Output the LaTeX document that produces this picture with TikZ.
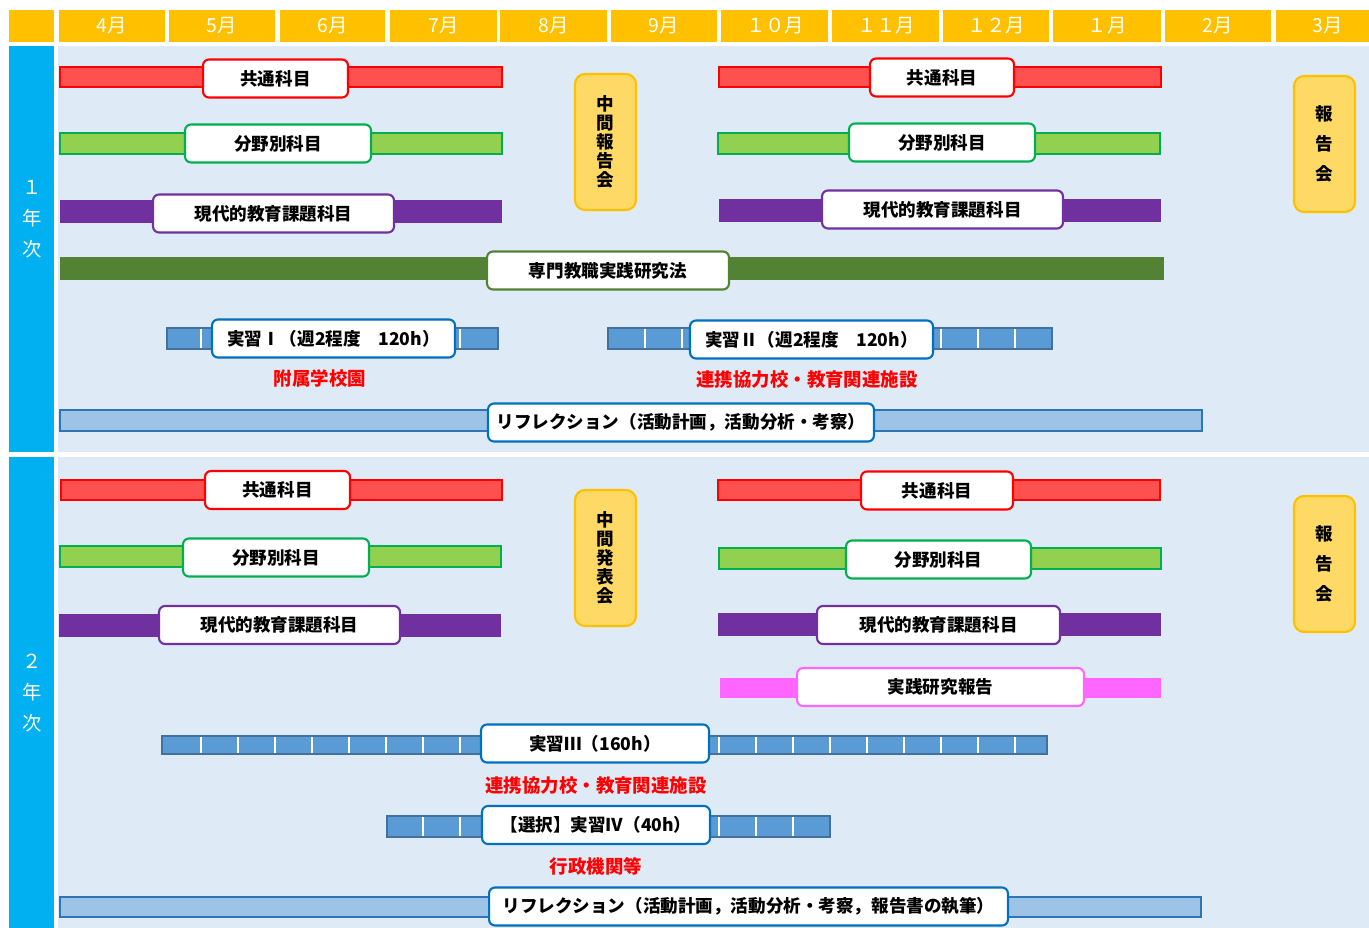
\documentclass[tikz,border=0pt]{standalone}
\usepackage{fontspec}
\newfontfamily\jp{Noto Sans CJK JP}
\definecolor{hdrorange}{HTML}{FFC000}
\definecolor{yearblue}{HTML}{00B0F0}
\definecolor{bgblue}{HTML}{DEEAF6}
\definecolor{kyored}{HTML}{FF5050}
\definecolor{bungreen}{HTML}{92D050}
\definecolor{bunline}{HTML}{00B050}
\definecolor{genpurple}{HTML}{7030A0}
\definecolor{sengreen}{HTML}{548235}
\definecolor{jisblue}{HTML}{5B9BD5}
\definecolor{jisline}{HTML}{41719C}
\definecolor{lblblue}{HTML}{0070C0}
\definecolor{refblue}{HTML}{9DC3E6}
\definecolor{refline}{HTML}{2E75B6}
\definecolor{evyellow}{HTML}{FFD966}
\definecolor{jprpink}{HTML}{FF66FF}
\begin{document}
\begin{tikzpicture}[
    x=0.02cm, y=-0.02cm,
    month/.style={text=white, font=\jp\fontsize{11}{13}\selectfont},
    yearlbl/.style={text=white, align=center, font=\jp\fontsize{11}{17.6}\selectfont},
    bar/.style={line width=0.6pt},
    lbl/.style={rectangle, rounded corners=0.12cm, draw, fill=white, line width=1.2pt, minimum height=0.76cm, inner sep=0pt, font=\jp\bfseries\fontsize{10}{12}\selectfont},
    place/.style={text=red, font=\jp\bfseries\fontsize{10.5}{12}\selectfont},
    event/.style={rectangle, rounded corners=0.2cm, draw=hdrorange, fill=evyellow, line width=1.2pt, minimum width=1.22cm, minimum height=2.72cm, inner sep=0pt, align=center, font=\jp\bfseries\fontsize{10}{10.8}\selectfont},
    tick/.style={white, line width=1.1pt}
]
\useasboundingbox (0,0) rectangle (1369,928);

% 見出し（月）
\fill[hdrorange] (9,10) rectangle (54,42);
\fill[hdrorange] (59,10) rectangle (165,42);
\fill[hdrorange] (169,10) rectangle (275,42);
\fill[hdrorange] (280,10) rectangle (385,42);
\fill[hdrorange] (390,10) rectangle (497,42);
\fill[hdrorange] (500,10) rectangle (607,42);
\fill[hdrorange] (611,10) rectangle (717,42);
\fill[hdrorange] (721,10) rectangle (828,42);
\fill[hdrorange] (832,10) rectangle (939,42);
\fill[hdrorange] (943,10) rectangle (1049,42);
\fill[hdrorange] (1053,10) rectangle (1161,42);
\fill[hdrorange] (1165,10) rectangle (1271,42);
\fill[hdrorange] (1276,10) rectangle (1369,42);
\node[month] (m4) at (112,26) {4月};
\node[month] (m5) at (222,26) {5月};
\node[month] (m6) at (333,26) {6月};
\node[month] (m7) at (444,26) {7月};
\node[month] (m8) at (554,26) {8月};
\node[month] (m9) at (664,26) {9月};
\node[month] (m10) at (775,26) {１０月};
\node[month] (m11) at (886,26) {１１月};
\node[month] (m12) at (996,26) {１２月};
\node[month] (m1) at (1107,26) {１月};
\node[month] (m2) at (1218,26) {2月};
\node[month] (m3) at (1328,26) {3月};

% 背景
\fill[yearblue] (9,46) rectangle (54,452);
\fill[yearblue] (9,457) rectangle (54,928);
\fill[bgblue] (58,46) rectangle (1369,452);
\fill[bgblue] (58,457) rectangle (1369,928);
\node[yearlbl] (y1) at (32,219) {１\\年\\次};
\node[yearlbl] (y2) at (32,693) {２\\年\\次};

% １年次
\draw[bar, draw=red, fill=kyored] (60,67) rectangle (502,87);
\draw[bar, draw=red, fill=kyored] (719,67) rectangle (1161,87);
\node[lbl, draw=red, minimum width=2.9cm] (kyo1L) at (275.5,78.5) {共通科目};
\node[lbl, draw=red, minimum width=2.88cm] (kyo1R) at (942,77.5) {共通科目};

\draw[bar, draw=bunline, fill=bungreen] (60,133) rectangle (502,154);
\draw[bar, draw=bunline, fill=bungreen] (718,133) rectangle (1160,154);
\node[lbl, draw=bunline, minimum width=3.72cm] (bun1L) at (278,143.5) {分野別科目};
\node[lbl, draw=bunline, minimum width=3.72cm] (bun1R) at (942,142.5) {分野別科目};

\fill[genpurple] (60,200) rectangle (502,223);
\fill[genpurple] (719,199) rectangle (1161,222);
\node[lbl, draw=genpurple, minimum width=4.82cm] (gen1L) at (273.5,213.5) {現代的教育課題科目};
\node[lbl, draw=genpurple, minimum width=4.82cm] (gen1R) at (942.5,209.5) {現代的教育課題科目};

\fill[sengreen] (60,257) rectangle (1164,280);
\node[lbl, draw=sengreen, minimum width=4.84cm] (sen1) at (608,270.5) {専門教職実践研究法};

\draw[bar, draw=jisline, fill=jisblue] (167,328) rectangle (498,349);
\draw[tick] (201,329) -- (201,348) (460,329) -- (460,348);
\node[lbl, draw=lblblue, minimum width=4.86cm] (jis1) at (333.5,338.5) {実習Ⅰ（週2程度　120h）};
\node[place] (fuzoku) at (320,378) {附属学校園};

\draw[bar, draw=jisline, fill=jisblue] (608,328) rectangle (1052,349);
\draw[tick] (645,329) -- (645,348) (682,329) -- (682,348) (941,329) -- (941,348)
    (978,329) -- (978,348) (1015,329) -- (1015,348);
\node[lbl, draw=lblblue, minimum width=4.86cm] (jis2) at (811.5,339.5) {実習Ⅱ（週2程度　120h）};
\node[place] (renkei1) at (807,380) {連携協力校・教育関連施設};

\draw[bar, draw=refline, fill=refblue] (60,410) rectangle (1202,431);
\node[lbl, draw=lblblue, minimum width=7.72cm] (ref1) at (681,422.5) {リフレクション（活動計画，活動分析・考察）};

\node[event] (mid1) at (605.5,142) {中\\間\\報\\告\\会};
\node[event, font=\jp\bfseries\fontsize{10}{17}\selectfont] (rep1) at (1324.5,144) {報\\告\\会};

% ２年次
\draw[bar, draw=red, fill=kyored] (61,480) rectangle (502,500);
\draw[bar, draw=red, fill=kyored] (718,480) rectangle (1160,500);
\node[lbl, draw=red, minimum width=2.9cm] (kyo2L) at (277.5,490) {共通科目};
\node[lbl, draw=red, minimum width=3.04cm] (kyo2R) at (937,490.5) {共通科目};

\draw[bar, draw=bunline, fill=bungreen] (60,546) rectangle (501,567);
\draw[bar, draw=bunline, fill=bungreen] (719,548) rectangle (1161,569);
\node[lbl, draw=bunline, minimum width=3.72cm] (bun2L) at (276,557.5) {分野別科目};
\node[lbl, draw=bunline, minimum width=3.7cm] (bun2R) at (938.5,559.5) {分野別科目};

\fill[genpurple] (59,614) rectangle (501,637);
\fill[genpurple] (718,613) rectangle (1161,636);
\node[lbl, draw=genpurple, minimum width=4.82cm] (gen2L) at (279.5,625) {現代的教育課題科目};
\node[lbl, draw=genpurple, minimum width=4.86cm] (gen2R) at (938.5,625) {現代的教育課題科目};

\fill[jprpink] (720,678) rectangle (1161,698);
\node[lbl, draw=jprpink, minimum width=5.74cm] (jpr) at (940.5,687) {実践研究報告};

\draw[bar, draw=jisline, fill=jisblue] (162,736) rectangle (1047,754);
\draw[tick] (201,737) -- (201,753) (238,737) -- (238,753) (275,737) -- (275,753)
    (312,737) -- (312,753) (349,737) -- (349,753) (386,737) -- (386,753)
    (423,737) -- (423,753) (460,737) -- (460,753) (719,737) -- (719,753)
    (756,737) -- (756,753) (793,737) -- (793,753) (830,737) -- (830,753)
    (867,737) -- (867,753) (904,737) -- (904,753) (941,737) -- (941,753)
    (978,737) -- (978,753) (1015,737) -- (1015,753);
\node[lbl, draw=lblblue, minimum width=4.56cm] (jis3) at (595,743.5) {実習Ⅲ（160h）};
\node[place] (renkei2) at (596,786) {連携協力校・教育関連施設};

\draw[bar, draw=jisline, fill=jisblue] (387,816) rectangle (830,837);
\draw[tick] (423,817) -- (423,836) (460,817) -- (460,836) (719,817) -- (719,836)
    (756,817) -- (756,836) (793,817) -- (793,836);
\node[lbl, draw=lblblue, minimum width=4.56cm] (jis4) at (596,825) {【選択】実習Ⅳ（40h）};
\node[place] (gyosei) at (596,866) {行政機関等};

\draw[bar, draw=refline, fill=refblue] (60,897) rectangle (1201,917);
\node[lbl, draw=lblblue, minimum width=10.38cm] (ref2) at (748.5,906.5) {リフレクション（活動計画，活動分析・考察，報告書の執筆）};

\node[event] (mid2) at (605.5,558) {中\\間\\発\\表\\会};
\node[event, font=\jp\bfseries\fontsize{10}{17}\selectfont] (rep2) at (1324.5,564) {報\\告\\会};

\end{tikzpicture}
\end{document}
